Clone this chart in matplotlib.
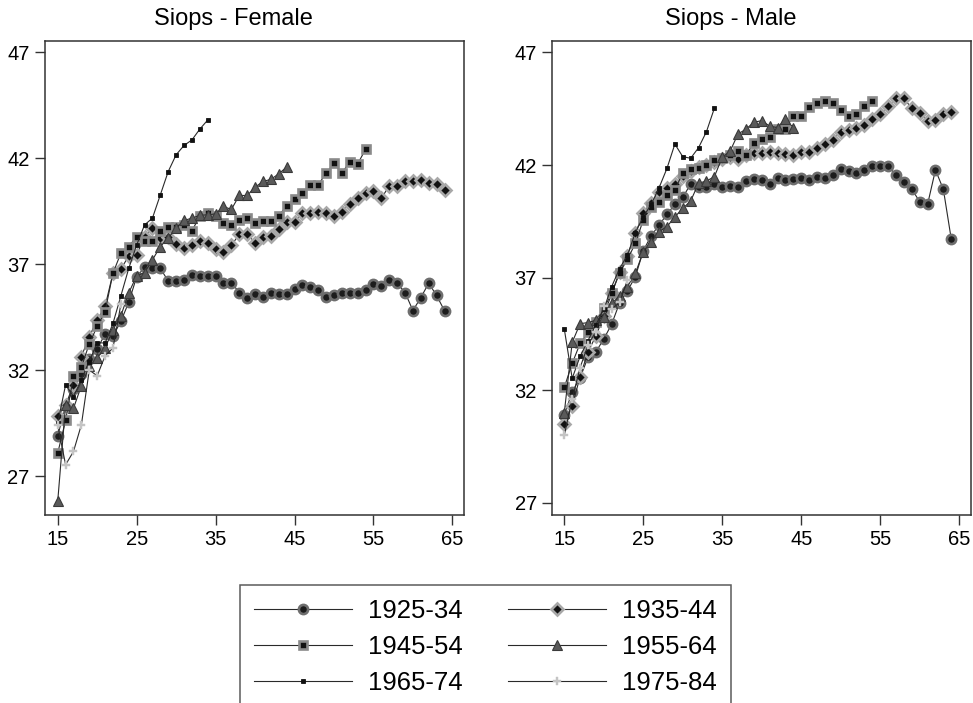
import numpy as np
import matplotlib
matplotlib.use("Agg")
import matplotlib.pyplot as plt
from matplotlib.lines import Line2D

plt.rcParams['font.family'] = ['Liberation Sans', 'DejaVu Sans']

FIRST_AGE = 15
cohorts = ["1925-34", "1935-44", "1945-54", "1955-64", "1965-74", "1975-84"]
panel_titles = ["Siops - Female", "Siops - Male"]
x_ticks = [15, 25, 35, 45, 55, 65]
y_ticks = [27, 32, 37, 42, 47]

# Mean Siops score by age (starting at 15), one list per birth cohort
female_1925_34 = [28.9, 30.3, 31.1, 31.8, 32.5, 33.0, 33.7, 33.6, 34.3, 35.2,
                  36.4, 36.85, 36.8, 36.8, 36.2, 36.2, 36.25, 36.5, 36.45, 36.45,
                  36.45, 36.13, 36.13, 35.66, 35.4, 35.58, 35.47, 35.66, 35.58, 35.58,
                  35.82, 36.02, 35.91, 35.79, 35.47, 35.52, 35.66, 35.63, 35.63, 35.79,
                  36.06, 35.98, 36.26, 36.1, 35.66, 34.81, 35.42, 36.1, 35.52, 34.8]
female_1935_44 = [29.81, 30.36, 31.3, 32.64, 33.58, 34.37, 35.0, 36.57, 36.76, 37.39,
                  37.44, 38.3, 38.7, 38.23, 38.27, 37.96, 37.75, 37.88, 38.07, 37.99,
                  37.72, 37.57, 37.88, 38.41, 38.41, 38.02, 38.26, 38.34, 38.68, 38.99,
                  38.98, 39.41, 39.43, 39.48, 39.41, 39.28, 39.48, 39.84, 40.11, 40.35,
                  40.46, 40.11, 40.69, 40.69, 40.9, 40.94, 40.98, 40.82, 40.79, 40.5]
female_1945_54 = [28.08, 29.62, 31.7, 32.14, 33.24, 34.06, 34.76, 36.57, 37.52, 37.83,
                  38.3, 38.11, 38.11, 38.54, 38.73, 38.77, 38.85, 38.58, 39.25, 39.41,
                  39.25, 38.93, 38.85, 39.09, 39.2, 38.96, 39.04, 39.04, 39.28, 39.76,
                  40.07, 40.35, 40.74, 40.74, 41.29, 41.76, 41.29, 41.84, 41.73, 42.42]
female_1955_64 = [25.8, 30.36, 30.2, 31.26, 32.17, 32.57, 33.04, 33.9, 34.56, 35.64,
                  36.45, 36.6, 37.2, 37.83, 38.23, 38.7, 39.06, 39.17, 39.3, 39.33,
                  39.37, 39.72, 39.58, 40.24, 40.24, 40.63, 40.9, 41.0, 41.26, 41.58]
female_1965_74 = [29.5, 31.3, 30.75, 31.55, 32.4, 33.3, 33.27, 34.2, 35.5, 36.8,
                  37.9, 38.85, 39.17, 40.27, 41.37, 42.16, 42.6, 42.86, 43.37, 43.8]
female_1975_84 = [29.4, 27.53, 28.16, 29.42, 32.0, 31.73, 32.67, 33.04, 35.1]

male_1925_34 = [30.9, 31.92, 32.55, 33.45, 33.7, 34.27, 34.93, 35.88, 36.41, 37.04,
                38.19, 38.86, 39.33, 39.81, 40.25, 40.56, 41.16, 41.04, 41.04, 41.14,
                41.01, 41.08, 41.04, 41.3, 41.36, 41.33, 41.14, 41.41, 41.33, 41.38,
                41.44, 41.33, 41.48, 41.41, 41.56, 41.81, 41.75, 41.66, 41.78, 41.96,
                41.96, 41.96, 41.56, 41.26, 40.93, 40.37, 40.25, 41.78, 40.92, 38.71]
male_1935_44 = [30.49, 31.29, 32.6, 33.7, 34.4, 35.3, 36.3, 37.23, 37.97, 38.96,
                39.85, 40.33, 40.8, 41.0, 41.14, 41.5, 41.75, 41.9, 42.0, 42.15,
                42.25, 42.35, 42.27, 42.44, 42.52, 42.55, 42.56, 42.52, 42.49, 42.44,
                42.56, 42.56, 42.74, 42.93, 43.11, 43.48, 43.56, 43.66, 43.78, 44.04,
                44.25, 44.62, 44.96, 44.96, 44.52, 44.3, 43.97, 44.0, 44.25, 44.37]
male_1945_54 = [32.12, 33.19, 34.07, 34.56, 35.04, 35.63, 36.3, 37.21, 37.81, 38.52,
                39.56, 40.15, 40.34, 40.67, 40.89, 41.66, 41.81, 41.85, 42.0, 42.22,
                42.33, 42.44, 42.64, 42.44, 42.96, 43.16, 43.26, 43.59, 43.59, 44.19,
                44.19, 44.56, 44.74, 44.86, 44.74, 44.44, 44.18, 44.25, 44.62, 44.86]
male_1955_64 = [31.0, 34.12, 34.95, 35.0, 35.1, 35.26, 35.85, 36.18, 36.6, 37.19,
                38.15, 38.59, 39.04, 39.26, 39.7, 40.07, 40.4, 41.19, 41.29, 41.48,
                42.34, 42.62, 43.38, 43.59, 43.9, 43.97, 43.73, 43.66, 44.04, 43.66]
male_1965_74 = [34.71, 32.52, 33.5, 34.2, 34.9, 35.6, 36.6, 37.4, 38.0, 39.0,
                39.7, 40.25, 40.99, 41.85, 42.93, 42.37, 42.3, 42.77, 43.48, 44.52]
male_1975_84 = [30.0, 31.6, 33.0, 34.0, 34.6, 35.75, 35.6, 35.9, 36.9]

female = [female_1925_34, female_1935_44, female_1945_54,
          female_1955_64, female_1965_74, female_1975_84]
male = [male_1925_34, male_1935_44, male_1945_54,
        male_1955_64, male_1965_74, male_1975_84]

# Marker styling per cohort (monochrome scheme)
styles = [
    dict(marker='o', ms=6.6, mfc='#1c1c1c', mec='#6e6e6e', mew=1.9),
    dict(marker='D', ms=5.8, mfc='#111111', mec='#a8a8a8', mew=1.9),
    dict(marker='s', ms=6.2, mfc='#111111', mec='#8a8a8a', mew=1.9),
    dict(marker='^', ms=6.8, mfc='#5a5a5a', mec='#3a3a3a', mew=0.8),
    dict(marker='s', ms=2.6, mfc='#111111', mec='#111111', mew=0.6),
    dict(marker='P', ms=6.2, mfc='#c4c4c4', mec='#c4c4c4', mew=0.3),
]
line_kw = dict(color='#2a2a2a', lw=0.8)

fig = plt.figure(figsize=(9.73, 7.03), dpi=100)
W, H = 973, 703
ax_boxes = [(45, 41, 464, 515), (552.3, 41, 971, 515)]
ylims = [(25.16, 47.53), (26.45, 47.51)]
xlims = [(13.39, 66.47), (13.48, 66.5)]
title_x = [233, 731]

for k, (data, title) in enumerate(zip([female, male], panel_titles)):
    x0, y0, x1, y1 = ax_boxes[k]
    ax = fig.add_axes([x0 / W, 1 - y1 / H, (x1 - x0) / W, (y1 - y0) / H])
    for vals, st in zip(data, styles):
        ages = np.arange(FIRST_AGE, FIRST_AGE + len(vals))
        ax.plot(ages, vals, **line_kw, **st)
    ax.set_xlim(*xlims[k])
    ax.set_ylim(*ylims[k])
    ax.set_xticks(x_ticks)
    ax.set_yticks(y_ticks)
    ax.tick_params(axis='both', direction='out', length=7, width=1.0,
                   color='#333333', labelsize=14.5, pad=4, top=False, right=False)
    for sp in ax.spines.values():
        sp.set_color('#333333')
        sp.set_linewidth(1.1)
    # subplot title, centred over the whole subgraph (axis labels included)
    fig.text(title_x[k] / W, 1 - 25 / H, title, fontsize=17,
             ha='center', va='baseline')

handles = [Line2D([], [], **line_kw, **st) for st in styles]
order = [0, 2, 4, 1, 3, 5]
leg = fig.legend([handles[i] for i in order], [cohorts[i] for i in order],
                 loc='upper center', bbox_to_anchor=(485.5 / W, 1 - 585 / H),
                 ncol=2, fontsize=18.5, frameon=True, fancybox=False,
                 handlelength=3.8, handletextpad=0.65, columnspacing=1.75,
                 labelspacing=0.47, borderpad=0.55, borderaxespad=0.0)
leg.get_frame().set_edgecolor('#333333')
leg.get_frame().set_linewidth(1.1)

fig.savefig("out.png", dpi=100)
